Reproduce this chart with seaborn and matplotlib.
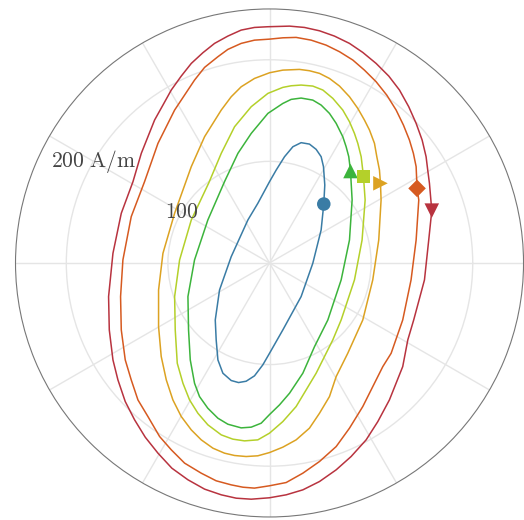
import numpy as np
import pandas as pd
import matplotlib
matplotlib.use("Agg")
import matplotlib.pyplot as plt
import seaborn as sns

# Field components (A/m), one closed loop per series
series_names = ["H1", "H2", "H3", "H4", "H5", "H6"]
colors = ["#3a7ca5", "#3cb43c", "#b4d02a", "#dca222", "#d65a20", "#b8333f"]
markers = ["o", "^", "s", ">", "D", "v"]
marker_sizes = [95, 110, 95, 110, 80, 110]

hx_1 = [53.4, 54.4, 53.1, 50.8, 45.9, 39.3, 31.1, 23.0, 14.8, 6.6, 0.0, -11.5, -21.3, -37.7, -49.2,
        -53.4, -52.5, -50.8, -45.9, -37.7, -30.5, -23.0, -14.8, -6.6, 0.0, 13.1, 31.1, 42.6, 50.8]
hy_1 = [58.0, 76.7, 94.8, 104.6, 111.8, 117.0, 118.4, 114.4, 104.6, 91.5, 80.0, 58.7, 42.3, 6.2, -26.6,
        -56.1, -75.7, -95.4, -108.5, -115.7, -117.7, -116.4, -111.1, -100.3, -88.9, -65.9, -33.1, -0.3, 32.5]

hx_2 = [79.7, 78.0, 75.4, 72.1, 65.6, 59.0, 50.8, 42.6, 31.1, 21.3, 13.1, -1.6, -18.0, -31.1, -44.3,
        -60.7, -73.8, -80.3, -79.7, -78.0, -73.8, -68.9, -60.7, -50.8, -41.0, -27.9, -18.0, -8.2, 0.0,
        9.8, 19.7, 32.8, 44.3, 57.4, 70.5, 78.7, 81.3]
hy_2 = [90.5, 104.6, 114.4, 124.3, 137.4, 147.2, 155.4, 160.3, 162.3, 161.0, 157.0, 147.2, 127.5, 107.9,
        80.0, 42.3, 3.0, -33.1, -65.9, -95.4, -118.4, -131.5, -143.0, -152.8, -158.7, -162.3, -161.6,
        -157.7, -149.2, -139.7, -128.2, -108.5, -82.3, -56.1, -16.7, 22.6, 62.0]

hx_3 = [92.5, 90.2, 86.9, 83.6, 78.7, 72.1, 62.3, 52.5, 42.6, 31.1, 21.3, 13.1, -1.6, -18.0, -34.4,
        -47.5, -59.7, -77.0, -88.5, -93.4, -92.8, -90.8, -85.2, -78.7, -70.5, -60.7, -47.5, -36.1, -24.6,
        -11.5, 0.0, 13.1, 26.2, 45.9, 62.3, 70.5, 83.6, 91.1, 94.1]
hy_3 = [84.9, 104.6, 117.7, 127.5, 139.0, 150.5, 162.0, 170.2, 174.1, 175.1, 174.4, 172.8, 166.9, 153.8,
        134.1, 107.9, 79.0, 42.3, 3.0, -33.1, -65.9, -98.7, -118.4, -134.8, -147.9, -159.3, -169.2, -173.4,
        -175.1, -174.1, -167.5, -156.1, -141.3, -108.5, -75.7, -56.1, -16.7, 22.6, 62.0]

hx_4 = [109.2, 108.2, 105.6, 103.3, 98.4, 93.4, 86.9, 78.7, 68.9, 59.0, 49.2, 39.3, 29.5, 13.1, 0.0,
        -14.8, -27.9, -37.7, -47.5, -63.9, -77.0, -93.4, -104.9, -109.2, -109.2, -106.6, -101.6, -95.1,
        -86.9, -77.0, -67.2, -55.7, -44.3, -34.4, -23.0, -11.5, 0.0, 13.1, 26.2, 39.3, 49.2, 59.0, 65.6,
        77.0, 91.8, 101.6, 107.5, 109.8]
hy_4 = [78.4, 91.5, 104.6, 117.7, 130.8, 140.7, 152.1, 163.6, 174.1, 181.6, 186.6, 189.2, 190.5, 189.8,
        187.2, 181.6, 173.4, 163.6, 150.5, 124.3, 94.8, 48.9, 9.5, -26.6, -62.6, -92.0, -115.1, -134.8,
        -151.1, -164.3, -174.1, -182.3, -187.2, -189.5, -190.5, -189.8, -186.6, -181.3, -174.1, -162.6,
        -147.9, -131.5, -111.8, -88.9, -56.1, -16.7, 22.6, 62.0]

hx_5 = [145.2, 144.3, 141.6, 137.7, 131.8, 124.6, 115.4, 104.9, 93.4, 82.0, 68.9, 55.7, 41.0, 26.2,
        13.1, 0.0, -14.8, -27.9, -41.0, -50.8, -63.9, -73.8, -93.4, -109.8, -123.0, -136.1, -144.3,
        -146.6, -145.9, -142.0, -136.1, -129.5, -119.7, -108.2, -96.7, -83.6, -67.2, -52.5, -37.7, -26.2,
        -14.8, 0.0, 16.4, 32.8, 49.2, 65.6, 78.7, 91.8, 111.5, 119.7, 131.1, 139.3, 144.3, 146.9]
hy_5 = [73.4, 94.8, 107.9, 121.0, 135.7, 150.5, 165.2, 178.4, 189.8, 199.7, 207.9, 214.4, 219.3, 222.0,
        221.6, 220.3, 219.3, 216.1, 210.2, 203.0, 192.5, 180.0, 150.5, 117.7, 80.0, 45.6, 3.0, -33.1,
        -65.9, -95.4, -115.1, -134.8, -151.1, -170.8, -183.9, -197.0, -206.9, -214.4, -218.4, -220.7,
        -221.6, -219.3, -216.1, -206.9, -195.4, -180.7, -162.6, -141.3, -102.0, -88.9, -56.1, -16.7,
        22.6, 62.0]

hx_6 = [159.7, 157.4, 155.7, 154.1, 150.2, 144.3, 137.0, 127.9, 117.4, 104.9, 91.8, 78.7, 63.9, 49.2,
        34.4, 19.7, -1.6, -14.8, -27.9, -41.0, -54.1, -65.6, -77.0, -86.9, -96.7, -104.9, -113.1, -126.2,
        -134.4, -145.9, -154.1, -158.4, -157.7, -154.1, -149.2, -142.0, -132.8, -122.3, -109.8, -96.1,
        -80.3, -63.9, -47.5, -32.8, -18.0, 0.0, 16.4, 32.8, 49.2, 65.6, 80.3, 95.1, 106.6, 118.0, 131.1,
        136.1, 141.9, 152.5, 156.7]
hy_6 = [51.5, 78.4, 91.5, 104.6, 121.0, 137.4, 153.8, 170.2, 183.9, 196.4, 207.2, 216.1, 223.3, 228.5,
        231.8, 233.1, 232.5, 231.8, 229.2, 223.3, 216.1, 206.9, 196.4, 183.9, 170.2, 155.4, 140.7, 107.9,
        80.0, 48.9, 9.5, -33.1, -65.9, -95.4, -115.1, -136.4, -154.4, -171.5, -187.2, -202.0, -213.4,
        -222.6, -228.2, -231.5, -232.5, -231.1, -228.2, -223.3, -215.1, -203.6, -190.5, -174.1, -156.1,
        -134.8, -102.0, -75.7, -56.1, -16.7, 22.6]

hx_all = [hx_1, hx_2, hx_3, hx_4, hx_5, hx_6]
hy_all = [hy_1, hy_2, hy_3, hy_4, hy_5, hy_6]

r_ticks = [100, 200]
r_tick_labels = [r"$\mathrm{100}$", r"$\mathrm{200\ A/m}$"]

rows = []
starts = []
for name, hx, hy in zip(series_names, hx_all, hy_all):
    hx = np.array(hx + [hx[0]])
    hy = np.array(hy + [hy[0]])
    th = np.arctan2(hy, hx)
    rr = np.hypot(hx, hy)
    for i, (t, r) in enumerate(zip(th, rr)):
        rows.append({"series": name, "order": i, "theta": t, "r": r})
    starts.append({"series": name, "theta": th[0], "r": rr[0]})
df = pd.DataFrame(rows)
df_start = pd.DataFrame(starts)

sns.set_style("white")
plt.rcParams["mathtext.fontset"] = "cm"

fig = plt.figure(figsize=(5.24, 5.20), dpi=100)
ax = fig.add_axes([0.0296, 0.0058, 0.9695, 0.977], projection="polar")

palette = dict(zip(series_names, colors))
sns.lineplot(data=df, x="theta", y="r", hue="series", palette=palette, sort=False,
             estimator=None, units="series", legend=False, lw=1.1, ax=ax, zorder=3)
sns.scatterplot(data=df_start, x="theta", y="r", hue="series", style="series",
                palette=palette, markers=dict(zip(series_names, markers)),
                size="series", sizes=dict(zip(series_names, marker_sizes)),
                linewidth=0, legend=False, ax=ax, zorder=4)

ax.set_ylim(0, 250)
ax.set_yticks(r_ticks)
ax.set_yticklabels([])
ax.set_xticks(np.deg2rad(np.arange(0, 360, 30)))
ax.set_xticklabels([])
ax.set_xlabel("")
ax.set_ylabel("")
ax.grid(True, color="#e5e5e5", lw=1.0)
ax.spines["polar"].set_color("#777777")
ax.spines["polar"].set_linewidth(0.8)

for r, lab in zip(r_ticks, r_tick_labels):
    ax.text(np.deg2rad(150), r, lab, ha="center", va="center", fontsize=15.5,
            color="#444444", zorder=5)

fig.savefig("out.png", dpi=100)
